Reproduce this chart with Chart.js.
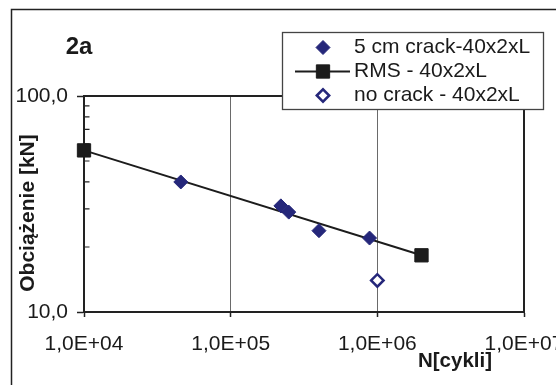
<!DOCTYPE html>
<html>
<head>
<meta charset="utf-8">
<script src="https://cdn.jsdelivr.net/npm/chart.js@4.4.1/dist/chart.umd.min.js"></script>
<style>
  html, body { margin: 0; padding: 0; background: #fff; }
  #wrap { width: 556px; height: 385px; }
</style>
</head>
<body>
<div id="wrap"><canvas id="c" width="556" height="385"></canvas></div>
<script>
// ---- data ----
const crackN = [45700, 220000, 249000, 400000, 885000];
const crackLoad = [40.0, 31.0, 29.0, 23.8, 22.0];
const rmsN = [10000, 2000000];
const rmsLoad = [56.0, 18.3];
const noCrackN = [1000000];
const noCrackLoad = [14.0];

const seriesNames = ['5 cm crack-40x2xL', 'RMS - 40x2xL', 'no crack - 40x2xL'];
const xTickValues = [1e4, 1e5, 1e6, 1e7];
const xTickLabels = ['1,0E+04', '1,0E+05', '1,0E+06', '1,0E+07'];
const yTickValues = [10, 100];
const yTickLabels = ['10,0', '100,0'];
const yMinorTicks = [20, 30, 40, 50, 60, 70, 80, 90];
const panelLabel = '2a';
const xTitle = 'N[cykli]';
const yTitle = 'Obciążenie [kN]';

const NAVY = '#25277a';
const BLACK = '#1c1c1c';
const FONT = '"Liberation Sans", Arial, sans-serif';

const toPts = (xs, ys) => xs.map((x, i) => ({ x: x, y: ys[i] }));

const decor = {
  id: 'decor',
  beforeDraw(chart) {
    const ctx = chart.ctx;
    ctx.save();
    ctx.fillStyle = '#fff';
    ctx.fillRect(0, 0, chart.width, chart.height);
    ctx.strokeStyle = '#222';
    ctx.lineWidth = 1.5;
    ctx.strokeRect(11.5, 9.5, 700, 700);
    ctx.restore();
  },
  beforeDatasetsDraw(chart) {
    const ctx = chart.ctx, a = chart.chartArea, ys = chart.scales.y;
    ctx.save();
    ctx.strokeStyle = '#222';
    ctx.lineWidth = 1.2;
    ctx.beginPath();
    yMinorTicks.forEach(v => {
      const p = ys.getPixelForValue(v);
      ctx.moveTo(a.left, p);
      ctx.lineTo(a.left + 5.5, p);
    });
    ctx.stroke();
    ctx.lineWidth = 2;
    ctx.strokeRect(a.left, a.top, a.right - a.left, a.bottom - a.top);
    ctx.restore();
  },
  afterDraw(chart) {
    const ctx = chart.ctx, a = chart.chartArea;
    ctx.save();
    // titles
    ctx.fillStyle = '#1a1a1a';
    ctx.font = 'bold 24px ' + FONT;
    ctx.textAlign = 'center';
    ctx.textBaseline = 'alphabetic';
    ctx.fillText(panelLabel, 79, 54);
    ctx.font = 'bold 20.5px ' + FONT;
    ctx.fillText(xTitle, 455, 367);
    ctx.save();
    ctx.translate(28, 213);
    ctx.rotate(-Math.PI / 2);
    ctx.font = 'bold 21px ' + FONT;
    ctx.textBaseline = 'middle';
    ctx.fillText(yTitle, 0, 0);
    ctx.restore();

    // legend
    const lx = 282.5, ly = 32.5, lw = 261, lh = 77;
    ctx.fillStyle = '#fff';
    ctx.fillRect(lx, ly, lw, lh);
    ctx.strokeStyle = '#444';
    ctx.lineWidth = 1.3;
    ctx.strokeRect(lx, ly, lw, lh);
    const rows = [47.5, 71.5, 95.5];
    const symX = 323;
    chart.data.datasets.forEach((ds, i) => {
      const y = rows[i];
      if (ds.showLine) {
        ctx.strokeStyle = ds.borderColor;
        ctx.lineWidth = ds.borderWidth;
        ctx.beginPath();
        ctx.moveTo(295, y);
        ctx.lineTo(350, y);
        ctx.stroke();
      }
      ctx.fillStyle = ds.pointBackgroundColor;
      ctx.strokeStyle = ds.pointBorderColor;
      ctx.lineWidth = ds.pointBorderWidth;
      Chart.helpers.drawPoint(ctx, {
        pointStyle: ds.pointStyle, radius: ds.pointRadius,
        rotation: 0, borderWidth: ds.pointBorderWidth
      }, symX, y);
      ctx.fillStyle = '#1a1a1a';
      ctx.font = '21px ' + FONT;
      ctx.textAlign = 'left';
      ctx.textBaseline = 'middle';
      ctx.fillText(seriesNames[i], 354, y);
    });
    ctx.restore();
  }
};

new Chart(document.getElementById('c'), {
  type: 'scatter',
  data: {
    datasets: [
      {
        label: seriesNames[0], data: toPts(crackN, crackLoad), showLine: false,
        pointStyle: 'rectRot', pointRadius: 7, pointBackgroundColor: NAVY,
        pointBorderColor: NAVY, pointBorderWidth: 1, borderColor: NAVY, borderWidth: 0, clip: false
      },
      {
        label: seriesNames[1], data: toPts(rmsN, rmsLoad), showLine: true,
        borderColor: BLACK, borderWidth: 2, pointStyle: 'rect', pointRadius: 9.4,
        pointBackgroundColor: BLACK, pointBorderColor: BLACK, pointBorderWidth: 1, clip: false
      },
      {
        label: seriesNames[2], data: toPts(noCrackN, noCrackLoad), showLine: false,
        pointStyle: 'rectRot', pointRadius: 6.2, pointBackgroundColor: '#ffffff',
        pointBorderColor: NAVY, pointBorderWidth: 2.5, borderColor: NAVY, borderWidth: 0, clip: false
      }
    ]
  },
  options: {
    responsive: false,
    animation: false,
    events: [],
    layout: { padding: { top: 96, right: 32, bottom: 0, left: 0 } },
    plugins: { legend: { display: false }, tooltip: { enabled: false } },
    scales: {
      x: {
        type: 'logarithmic', min: 1e4, max: 1e7,
        afterBuildTicks: s => { s.ticks = xTickValues.map(v => ({ value: v, major: true })); },
        afterFit: s => { s.height = 73; s.paddingLeft = 0; s.paddingRight = 0; },
        ticks: {
          autoSkip: false, maxRotation: 0, minRotation: 0, padding: 15,
          color: '#1a1a1a', font: { family: FONT, size: 21 },
          callback: v => { const i = xTickValues.indexOf(v); return i >= 0 ? xTickLabels[i] : ''; }
        },
        grid: { display: true, drawOnChartArea: true, color: '#6a6a6a', lineWidth: 1,
                drawTicks: true, tickLength: 5, tickColor: '#222', tickWidth: 1.5 },
        border: { display: true, color: '#222', width: 2 }
      },
      y: {
        type: 'logarithmic', min: 10, max: 100,
        afterBuildTicks: s => { s.ticks = yTickValues.map(v => ({ value: v, major: true })); },
        afterFit: s => { s.width = 84; s.paddingTop = 0; s.paddingBottom = 0; },
        ticks: {
          autoSkip: false, padding: 9,
          color: '#1a1a1a', font: { family: FONT, size: 21 },
          callback: v => { const i = yTickValues.indexOf(v); return i >= 0 ? yTickLabels[i] : ''; }
        },
        grid: { display: true, drawOnChartArea: false, drawTicks: true, tickLength: 7,
                tickColor: '#222', tickWidth: 1.5 },
        border: { display: true, color: '#222', width: 2 }
      }
    }
  },
  plugins: [decor]
});
</script>
</body>
</html>
